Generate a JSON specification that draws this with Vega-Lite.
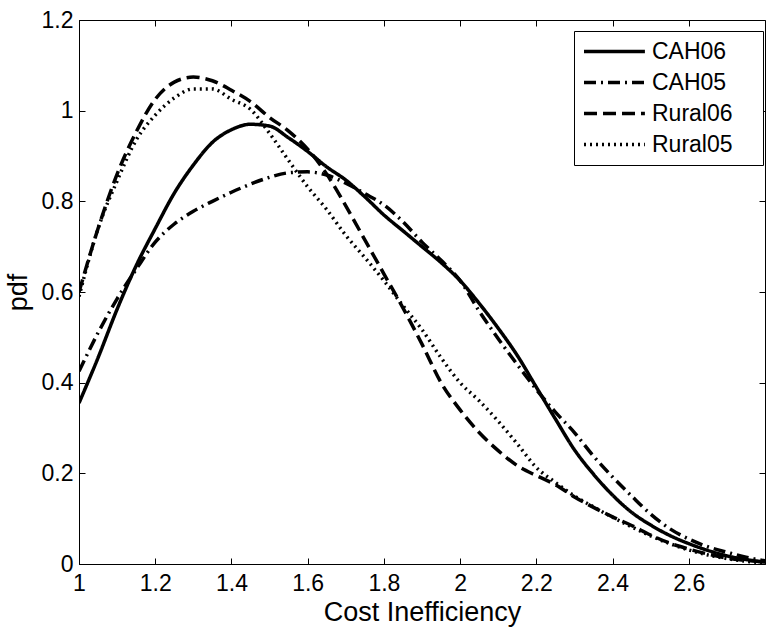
{
  "$schema": "https://vega.github.io/schema/vega-lite/v6.json",
  "width": 686,
  "height": 544,
  "autosize": {"type": "none"},
  "padding": {"left": 79, "top": 20, "right": 1, "bottom": 64},
  "background": "white",
  "config": {
    "view": {"stroke": "black", "strokeWidth": 1},
    "font": "Liberation Sans",
    "axis": {
      "domainColor": "black",
      "tickColor": "black",
      "labelColor": "black",
      "titleColor": "black",
      "labelFont": "Liberation Sans",
      "titleFont": "Liberation Sans",
      "labelFontSize": 23,
      "titleFontSize": 27,
      "titleFontWeight": "normal",
      "labelFlush": false,
      "grid": false,
      "tickSize": 6
    }
  },
  "resolve": {"axis": {"x": "independent", "y": "independent"}},
  "data": {
    "values": [
      {"series": "CAH06", "x": 1.00, "pdf": 0.355},
      {"series": "CAH06", "x": 1.05, "pdf": 0.455},
      {"series": "CAH06", "x": 1.10, "pdf": 0.562},
      {"series": "CAH06", "x": 1.15, "pdf": 0.658},
      {"series": "CAH06", "x": 1.20, "pdf": 0.74},
      {"series": "CAH06", "x": 1.25, "pdf": 0.818},
      {"series": "CAH06", "x": 1.30, "pdf": 0.88},
      {"series": "CAH06", "x": 1.35, "pdf": 0.93},
      {"series": "CAH06", "x": 1.40, "pdf": 0.958},
      {"series": "CAH06", "x": 1.45, "pdf": 0.97},
      {"series": "CAH06", "x": 1.50, "pdf": 0.966},
      {"series": "CAH06", "x": 1.55, "pdf": 0.94},
      {"series": "CAH06", "x": 1.60, "pdf": 0.91},
      {"series": "CAH06", "x": 1.65, "pdf": 0.876},
      {"series": "CAH06", "x": 1.70, "pdf": 0.847},
      {"series": "CAH06", "x": 1.75, "pdf": 0.81},
      {"series": "CAH06", "x": 1.80, "pdf": 0.77},
      {"series": "CAH06", "x": 1.85, "pdf": 0.735},
      {"series": "CAH06", "x": 1.90, "pdf": 0.70},
      {"series": "CAH06", "x": 1.95, "pdf": 0.665},
      {"series": "CAH06", "x": 2.00, "pdf": 0.625},
      {"series": "CAH06", "x": 2.05, "pdf": 0.575},
      {"series": "CAH06", "x": 2.10, "pdf": 0.52},
      {"series": "CAH06", "x": 2.15, "pdf": 0.46},
      {"series": "CAH06", "x": 2.20, "pdf": 0.39},
      {"series": "CAH06", "x": 2.25, "pdf": 0.32},
      {"series": "CAH06", "x": 2.30, "pdf": 0.252},
      {"series": "CAH06", "x": 2.35, "pdf": 0.198},
      {"series": "CAH06", "x": 2.40, "pdf": 0.152},
      {"series": "CAH06", "x": 2.45, "pdf": 0.114},
      {"series": "CAH06", "x": 2.50, "pdf": 0.086},
      {"series": "CAH06", "x": 2.55, "pdf": 0.063},
      {"series": "CAH06", "x": 2.60, "pdf": 0.045},
      {"series": "CAH06", "x": 2.65, "pdf": 0.03},
      {"series": "CAH06", "x": 2.70, "pdf": 0.018},
      {"series": "CAH06", "x": 2.75, "pdf": 0.01},
      {"series": "CAH06", "x": 2.80, "pdf": 0.004},

      {"series": "CAH05", "x": 1.00, "pdf": 0.425},
      {"series": "CAH05", "x": 1.05, "pdf": 0.51},
      {"series": "CAH05", "x": 1.10, "pdf": 0.585},
      {"series": "CAH05", "x": 1.15, "pdf": 0.65},
      {"series": "CAH05", "x": 1.20, "pdf": 0.71},
      {"series": "CAH05", "x": 1.25, "pdf": 0.75},
      {"series": "CAH05", "x": 1.30, "pdf": 0.778},
      {"series": "CAH05", "x": 1.35, "pdf": 0.80},
      {"series": "CAH05", "x": 1.40, "pdf": 0.82},
      {"series": "CAH05", "x": 1.45, "pdf": 0.838},
      {"series": "CAH05", "x": 1.50, "pdf": 0.853},
      {"series": "CAH05", "x": 1.55, "pdf": 0.863},
      {"series": "CAH05", "x": 1.60, "pdf": 0.865},
      {"series": "CAH05", "x": 1.65, "pdf": 0.858},
      {"series": "CAH05", "x": 1.70, "pdf": 0.84},
      {"series": "CAH05", "x": 1.75, "pdf": 0.817},
      {"series": "CAH05", "x": 1.80, "pdf": 0.792},
      {"series": "CAH05", "x": 1.85, "pdf": 0.755},
      {"series": "CAH05", "x": 1.90, "pdf": 0.71},
      {"series": "CAH05", "x": 1.95, "pdf": 0.67},
      {"series": "CAH05", "x": 2.00, "pdf": 0.625},
      {"series": "CAH05", "x": 2.05, "pdf": 0.558},
      {"series": "CAH05", "x": 2.10, "pdf": 0.497},
      {"series": "CAH05", "x": 2.15, "pdf": 0.44},
      {"series": "CAH05", "x": 2.20, "pdf": 0.385},
      {"series": "CAH05", "x": 2.25, "pdf": 0.335},
      {"series": "CAH05", "x": 2.30, "pdf": 0.29},
      {"series": "CAH05", "x": 2.35, "pdf": 0.238},
      {"series": "CAH05", "x": 2.40, "pdf": 0.192},
      {"series": "CAH05", "x": 2.45, "pdf": 0.15},
      {"series": "CAH05", "x": 2.50, "pdf": 0.11},
      {"series": "CAH05", "x": 2.55, "pdf": 0.078},
      {"series": "CAH05", "x": 2.60, "pdf": 0.055},
      {"series": "CAH05", "x": 2.65, "pdf": 0.038},
      {"series": "CAH05", "x": 2.70, "pdf": 0.026},
      {"series": "CAH05", "x": 2.75, "pdf": 0.015},
      {"series": "CAH05", "x": 2.80, "pdf": 0.007},

      {"series": "Rural06", "x": 1.00, "pdf": 0.60},
      {"series": "Rural06", "x": 1.05, "pdf": 0.74},
      {"series": "Rural06", "x": 1.10, "pdf": 0.86},
      {"series": "Rural06", "x": 1.15, "pdf": 0.953},
      {"series": "Rural06", "x": 1.20, "pdf": 1.025},
      {"series": "Rural06", "x": 1.25, "pdf": 1.063},
      {"series": "Rural06", "x": 1.30, "pdf": 1.074},
      {"series": "Rural06", "x": 1.35, "pdf": 1.066},
      {"series": "Rural06", "x": 1.40, "pdf": 1.045},
      {"series": "Rural06", "x": 1.45, "pdf": 1.02},
      {"series": "Rural06", "x": 1.50, "pdf": 0.985},
      {"series": "Rural06", "x": 1.55, "pdf": 0.955},
      {"series": "Rural06", "x": 1.60, "pdf": 0.915},
      {"series": "Rural06", "x": 1.65, "pdf": 0.86},
      {"series": "Rural06", "x": 1.70, "pdf": 0.79},
      {"series": "Rural06", "x": 1.75, "pdf": 0.715},
      {"series": "Rural06", "x": 1.80, "pdf": 0.64},
      {"series": "Rural06", "x": 1.85, "pdf": 0.565},
      {"series": "Rural06", "x": 1.90, "pdf": 0.485},
      {"series": "Rural06", "x": 1.95, "pdf": 0.40},
      {"series": "Rural06", "x": 2.00, "pdf": 0.34},
      {"series": "Rural06", "x": 2.05, "pdf": 0.29},
      {"series": "Rural06", "x": 2.10, "pdf": 0.25},
      {"series": "Rural06", "x": 2.15, "pdf": 0.217},
      {"series": "Rural06", "x": 2.20, "pdf": 0.195},
      {"series": "Rural06", "x": 2.25, "pdf": 0.175},
      {"series": "Rural06", "x": 2.30, "pdf": 0.148},
      {"series": "Rural06", "x": 2.35, "pdf": 0.125},
      {"series": "Rural06", "x": 2.40, "pdf": 0.104},
      {"series": "Rural06", "x": 2.45, "pdf": 0.085},
      {"series": "Rural06", "x": 2.50, "pdf": 0.064},
      {"series": "Rural06", "x": 2.55, "pdf": 0.046},
      {"series": "Rural06", "x": 2.60, "pdf": 0.033},
      {"series": "Rural06", "x": 2.65, "pdf": 0.022},
      {"series": "Rural06", "x": 2.70, "pdf": 0.013},
      {"series": "Rural06", "x": 2.75, "pdf": 0.008},
      {"series": "Rural06", "x": 2.80, "pdf": 0.004},

      {"series": "Rural05", "x": 1.00, "pdf": 0.59},
      {"series": "Rural05", "x": 1.05, "pdf": 0.74},
      {"series": "Rural05", "x": 1.10, "pdf": 0.845},
      {"series": "Rural05", "x": 1.15, "pdf": 0.935},
      {"series": "Rural05", "x": 1.20, "pdf": 0.99},
      {"series": "Rural05", "x": 1.25, "pdf": 1.028},
      {"series": "Rural05", "x": 1.30, "pdf": 1.048},
      {"series": "Rural05", "x": 1.35, "pdf": 1.048},
      {"series": "Rural05", "x": 1.40, "pdf": 1.025},
      {"series": "Rural05", "x": 1.45, "pdf": 1.003},
      {"series": "Rural05", "x": 1.50, "pdf": 0.95},
      {"series": "Rural05", "x": 1.55, "pdf": 0.89},
      {"series": "Rural05", "x": 1.60, "pdf": 0.832},
      {"series": "Rural05", "x": 1.65, "pdf": 0.782},
      {"series": "Rural05", "x": 1.70, "pdf": 0.725},
      {"series": "Rural05", "x": 1.75, "pdf": 0.676},
      {"series": "Rural05", "x": 1.80, "pdf": 0.625},
      {"series": "Rural05", "x": 1.85, "pdf": 0.57},
      {"series": "Rural05", "x": 1.90, "pdf": 0.517},
      {"series": "Rural05", "x": 1.95, "pdf": 0.455},
      {"series": "Rural05", "x": 2.00, "pdf": 0.40},
      {"series": "Rural05", "x": 2.05, "pdf": 0.36},
      {"series": "Rural05", "x": 2.10, "pdf": 0.315},
      {"series": "Rural05", "x": 2.15, "pdf": 0.265},
      {"series": "Rural05", "x": 2.20, "pdf": 0.213},
      {"series": "Rural05", "x": 2.25, "pdf": 0.18},
      {"series": "Rural05", "x": 2.30, "pdf": 0.15},
      {"series": "Rural05", "x": 2.35, "pdf": 0.126},
      {"series": "Rural05", "x": 2.40, "pdf": 0.103},
      {"series": "Rural05", "x": 2.45, "pdf": 0.082},
      {"series": "Rural05", "x": 2.50, "pdf": 0.062},
      {"series": "Rural05", "x": 2.55, "pdf": 0.045},
      {"series": "Rural05", "x": 2.60, "pdf": 0.031},
      {"series": "Rural05", "x": 2.65, "pdf": 0.02},
      {"series": "Rural05", "x": 2.70, "pdf": 0.012},
      {"series": "Rural05", "x": 2.75, "pdf": 0.006},
      {"series": "Rural05", "x": 2.80, "pdf": 0.003}
    ]
  },
  "layer": [
    {
      "mark": {"type": "line", "interpolate": "monotone", "color": "black", "clip": true},
      "encoding": {
        "x": {
          "field": "x", "type": "quantitative",
          "scale": {"domain": [1, 2.8], "nice": false, "zero": false},
          "axis": {"orient": "bottom", "title": "Cost Inefficiency", "values": [1, 1.2, 1.4, 1.6, 1.8, 2, 2.2, 2.4, 2.6], "format": "~g", "ticks": false, "labelPadding": 8, "titlePadding": 4, "labelFlush": false}
        },
        "y": {
          "field": "pdf", "type": "quantitative",
          "scale": {"domain": [0, 1.2], "nice": false},
          "axis": {"orient": "left", "title": "pdf", "values": [0, 0.2, 0.4, 0.6, 0.8, 1, 1.2], "format": "~g", "ticks": false, "labelPadding": 6, "titlePadding": 9, "labelFlush": false}
        },
        "detail": {"field": "series"},
        "strokeDash": {
          "field": "series", "type": "nominal",
          "scale": {"domain": ["CAH06", "CAH05", "Rural06", "Rural05"], "range": [[1, 0], [12, 5, 2, 5], [13, 6], [2, 4]]},
          "legend": {
            "title": ".",
            "titleOrient": "right",
            "titleFontSize": 20,
            "titlePadding": 16,
            "titleOpacity": 0,
            "orient": "none",
            "legendX": 495,
            "legendY": 11,
            "symbolType": "M-1,0H4.8",
            "symbolSize": 441,
            "symbolStrokeColor": "black",
            "symbolStrokeWidth": 3.5,
            "labelFont": "Liberation Sans",
            "labelFontSize": 23,
            "labelColor": "black",
            "labelOffset": 45,
            "rowPadding": 6,
            "padding": 8,
            "strokeColor": "black",
            "fillColor": "white"
          }
        },
        "strokeWidth": {
          "field": "series", "type": "nominal",
          "scale": {"domain": ["CAH06", "CAH05", "Rural06", "Rural05"], "range": [3.5, 3.5, 3.5, 2.2]},
          "legend": null
        }
      }
    },
    {
      "mark": {"type": "point", "opacity": 0},
      "encoding": {
        "x": {
          "field": "x", "type": "quantitative",
          "axis": {"orient": "top", "offset": -544, "values": [1, 1.2, 1.4, 1.6, 1.8, 2, 2.2, 2.4, 2.6], "labels": false, "domain": false, "title": null}
        },
        "y": {
          "field": "pdf", "type": "quantitative",
          "axis": {"orient": "right", "offset": -686, "values": [0, 0.2, 0.4, 0.6, 0.8, 1, 1.2], "labels": false, "domain": false, "title": null}
        }
      }
    },
    {
      "mark": {"type": "point", "opacity": 0},
      "encoding": {
        "x": {
          "field": "x", "type": "quantitative",
          "axis": {"orient": "bottom", "offset": -544, "values": [1, 1.2, 1.4, 1.6, 1.8, 2, 2.2, 2.4, 2.6], "labels": false, "domain": false, "title": null}
        },
        "y": {
          "field": "pdf", "type": "quantitative",
          "axis": {"orient": "left", "offset": -686, "values": [0, 0.2, 0.4, 0.6, 0.8, 1, 1.2], "labels": false, "domain": false, "title": null}
        }
      }
    }
  ]
}
